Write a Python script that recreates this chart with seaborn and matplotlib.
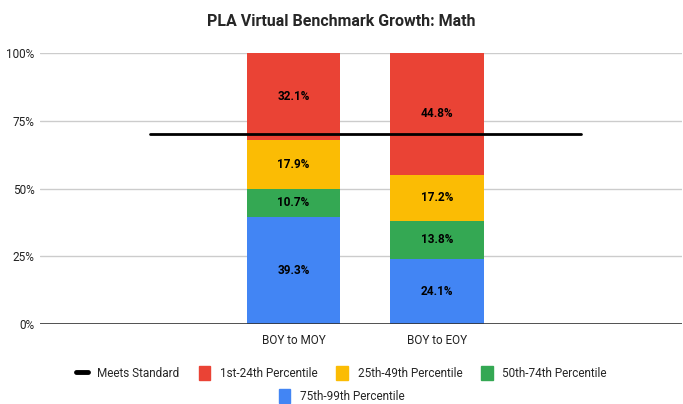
import numpy as np
import pandas as pd
import matplotlib
matplotlib.use("Agg")
import matplotlib.pyplot as plt
import seaborn as sns
from matplotlib.lines import Line2D
from matplotlib.patches import Patch

# categories (blank ends carry only the "Meets Standard" line, like the sheet)
categories = [" ", "BOY to MOY", "BOY to EOY", "  "]
p75_99 = [np.nan, 39.3, 24.1, np.nan]
p50_74 = [np.nan, 10.7, 13.8, np.nan]
p25_49 = [np.nan, 17.9, 17.2, np.nan]
p1_24 = [np.nan, 32.1, 44.8, np.nan]
meets_standard = [70, 70, 70, 70]

series_names = ["75th-99th Percentile", "50th-74th Percentile",
                "25th-49th Percentile", "1st-24th Percentile"]
colors = {"75th-99th Percentile": "#4285F4", "50th-74th Percentile": "#34A853",
          "25th-49th Percentile": "#FBBC04", "1st-24th Percentile": "#EA4335"}

sns.set_theme(style="white")
plt.rcParams["font.family"] = ["Roboto", "DejaVu Sans"]

df = pd.DataFrame({"cat": categories, "75th-99th Percentile": p75_99,
                   "50th-74th Percentile": p50_74, "25th-49th Percentile": p25_49,
                   "1st-24th Percentile": p1_24})
cum = df[series_names].cumsum(axis=1)

fig = plt.figure(figsize=(6.83, 4.04), dpi=100)
ax = fig.add_axes([40 / 683, 1 - 324 / 404, 642 / 683, 271 / 404])

# gridlines
for g in [25, 50, 75, 100]:
    ax.axhline(g, color="#CCCCCC", lw=1, zorder=0)

# stacked bars: draw cumulative totals from top down
for name in reversed(series_names):
    sns.barplot(x=df["cat"], y=cum[name], order=categories, color=colors[name],
                width=0.65, saturation=1, ax=ax, zorder=2, errorbar=None,
                linewidth=0)

for i in range(len(categories)):
    bottom = 0
    for name in series_names:
        v = df[name][i]
        if np.isnan(v):
            continue
        ax.text(i, bottom + v / 2, f"{v:.1f}%", ha="center", va="center",
                fontsize=8.5, fontweight="bold", color="black", zorder=4)
        bottom += v

sns.lineplot(x=np.arange(len(categories)), y=meets_standard, color="black",
             lw=2, ax=ax, zorder=3)

ax.axhline(0, color="#333333", lw=1.2, zorder=3)
ax.set_xlim(-0.767, 3.707)
ax.set_ylim(0, 100)
ax.set_yticks([0, 25, 50, 75, 100])
ax.set_yticklabels(["0%", "25%", "50%", "75%", "100%"])
ax.set_xlabel("")
ax.set_ylabel("")
ax.tick_params(axis="both", length=0, labelsize=8.5, colors="#222222", pad=7)
ax.tick_params(axis="y", pad=4)
for s in ax.spines.values():
    s.set_visible(False)

fig.suptitle("PLA Virtual Benchmark Growth: Math", y=1 - 22 / 404, va="center",
             fontsize=11.5, fontweight="bold")

h1 = [Line2D([0], [0], color="black", lw=3.5)] + \
     [Patch(color=colors[n]) for n in ["1st-24th Percentile", "25th-49th Percentile",
                                        "50th-74th Percentile"]]
l1 = ["Meets Standard", "1st-24th Percentile", "25th-49th Percentile",
      "50th-74th Percentile"]
leg1 = fig.legend(h1, l1, loc="center", bbox_to_anchor=(0.5, 1 - 373 / 404), ncol=4,
                  frameon=False, fontsize=8.5, handlelength=1.0, handleheight=1.4,
                  columnspacing=1.6, handletextpad=0.8)
leg2 = fig.legend([Patch(color=colors["75th-99th Percentile"])], ["75th-99th Percentile"],
                  loc="center", bbox_to_anchor=(0.5, 1 - 396 / 404), frameon=False,
                  fontsize=8.5, handlelength=1.0, handleheight=1.4, handletextpad=0.8)

fig.savefig("out.png", dpi=100)
